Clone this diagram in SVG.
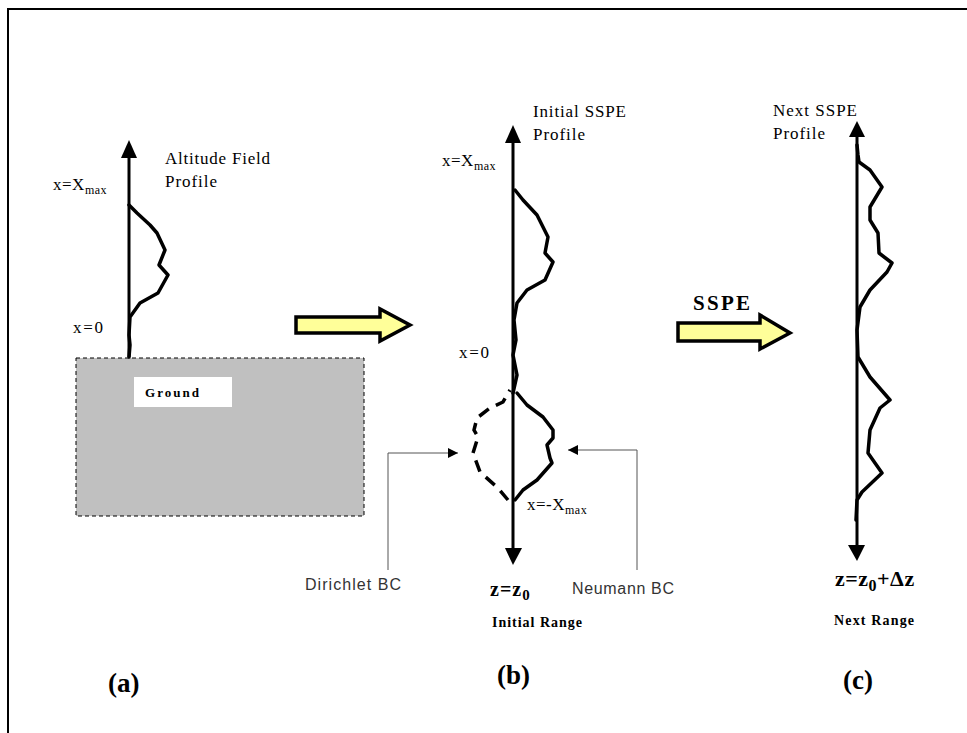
<svg xmlns="http://www.w3.org/2000/svg" width="967" height="733" viewBox="0 0 967 733">
<defs>
<style>
.t{font-family:"Liberation Serif",serif;font-size:17px;fill:#000}
.s{font-family:"Liberation Sans",sans-serif;font-size:16px;fill:#333}
.b{font-family:"Liberation Serif",serif;font-weight:bold;fill:#000}
.sub{font-size:12px}
.ax{stroke:#000;stroke-width:3;fill:none}
.pr{stroke:#000;stroke-width:3.5;fill:none;stroke-linejoin:round;stroke-linecap:round}
.dash{stroke:#000;stroke-width:3.5;fill:none;stroke-dasharray:12 8}
.thin{stroke:#555;stroke-width:1;fill:none}
.big{fill:#ffff99;stroke:#000;stroke-width:3.5;stroke-linejoin:miter}
</style>
<marker id="ah" viewBox="0 0 10 10" refX="10" refY="5" markerWidth="10" markerHeight="10" markerUnits="userSpaceOnUse" orient="auto">
<path d="M0,0 L10,5 L0,10 z" fill="#000"/>
</marker>
</defs>
<rect width="967" height="733" fill="#fff"/>
<path d="M8,733 V9 H967" fill="none" stroke="#000" stroke-width="2"/>

<g id="panel-a">
<rect id="ground" x="76" y="358" width="288" height="158" fill="#c0c0c0" stroke="#000" stroke-width="1" stroke-dasharray="4 3"/>
<rect x="134" y="377" width="98" height="30" fill="#fff"/>
<text class="b" x="145" y="397" font-size="13" textLength="54" lengthAdjust="spacing">Ground</text>
<line class="ax" x1="129" y1="357" x2="129" y2="157"/>
<polygon points="121,158 137,158 129,140" fill="#000"/>
<path class="pr" d="M129,205 L137,213 L150,225 L157,233 L165,250 L159,265 L168,275 L158,293 L140,303 L130,317 L129,335 L130,345 L129,357"/>
<text class="t" x="165" y="164" textLength="105" lengthAdjust="spacing">Altitude Field</text>
<text class="t" x="165" y="187" textLength="52" lengthAdjust="spacing">Profile</text>
<text class="t" x="53" y="190" letter-spacing="0.5">x=X<tspan class="sub" dy="4">max</tspan></text>
<text class="t" x="73" y="333" textLength="30" lengthAdjust="spacing">x=0</text>
</g>

<g id="arrow-1">
<polygon class="big" points="296,317 380,317 380,309 410,325 380,341 380,333 296,333"/>
</g>

<g id="panel-b">
<line class="ax" x1="513" y1="142" x2="513" y2="550"/>
<polygon points="505,143 521,143 513,125" fill="#000"/>
<polygon points="505,548 522,548 513,565" fill="#000"/>
<path class="pr" d="M515,190 L523,200 L537,215 L548,237 L545,253 L553,262 L545,280 L527,290 L517,303 L514,320 L516,340 L513,355 L517,375 L513,393"/>
<path class="pr" d="M517,393 L527,405 L543,417 L553,430 L553,438 L547,445 L550,458 L552,463 L537,480 L523,490 L515,500"/>
<path class="dash" d="M508,500 L498,488 L480,472 L473,453 L478,437 L474,430 L477,418 L490,408 L503,402 L510,390"/>
<text class="t" x="533" y="117" textLength="93" lengthAdjust="spacing">Initial SSPE</text>
<text class="t" x="533" y="140" textLength="52" lengthAdjust="spacing">Profile</text>
<text class="t" x="442" y="166" letter-spacing="0.5">x=X<tspan class="sub" dy="4">max</tspan></text>
<text class="t" x="459" y="358" textLength="30" lengthAdjust="spacing">x=0</text>
<text class="t" x="527" y="510" letter-spacing="0.5">x=-X<tspan class="sub" dy="4">max</tspan></text>
<text class="b" x="490" y="596" font-size="20" letter-spacing="1">z=z<tspan font-size="15" dy="4">0</tspan></text>
<text class="b" x="492" y="627" font-size="14" textLength="90" lengthAdjust="spacing">Initial Range</text>
</g>

<g id="arrow-sspe">
<polygon class="big" points="678,323 760,323 760,315 790,333 760,349 760,341 678,341"/>
<text class="b" x="693" y="310" font-size="21" textLength="57" lengthAdjust="spacing">SSPE</text>
</g>

<g id="panel-c">
<line class="ax" x1="857" y1="136" x2="857" y2="547"/>
<polygon points="849,137 865,137 857,121" fill="#000"/>
<polygon points="848,545 865,545 857,561" fill="#000"/>
<path class="pr" d="M857,145 L858,155 L859,162 L870,170 L882,187 L870,207 L870,220 L878,233 L879,253 L892,263 L887,272 L870,290 L860,307 L857,330 L858,357 L870,377 L890,400 L880,408 L870,430 L868,453 L882,473 L862,492 L857,500 L856,520"/>
<text class="t" x="773" y="116" textLength="84" lengthAdjust="spacing">Next SSPE</text>
<text class="t" x="773" y="139" textLength="52" lengthAdjust="spacing">Profile</text>
<text class="b" x="835" y="586" font-size="22" letter-spacing="0.5">z=z<tspan font-size="16" dy="5">0</tspan><tspan dy="-5">+Δz</tspan></text>
<text class="b" x="834" y="625" font-size="14" textLength="80" lengthAdjust="spacing">Next Range</text>
</g>

<g id="connectors">
<path class="thin" d="M388,570 V453 H458" marker-end="url(#ah)"/>
<path class="thin" d="M637,570 V450 H568" marker-end="url(#ah)"/>
</g>

<g id="bc-labels">
<text class="s" x="305" y="590" textLength="96" lengthAdjust="spacing">Dirichlet BC</text>
<text class="s" x="572" y="594" textLength="102" lengthAdjust="spacing">Neumann BC</text>
</g>

<g id="captions">
<text class="b" x="108" y="692" font-size="27">(a)</text>
<text class="b" x="497" y="684" font-size="27">(b)</text>
<text class="b" x="843" y="689" font-size="27">(c)</text>
</g>
</svg>
